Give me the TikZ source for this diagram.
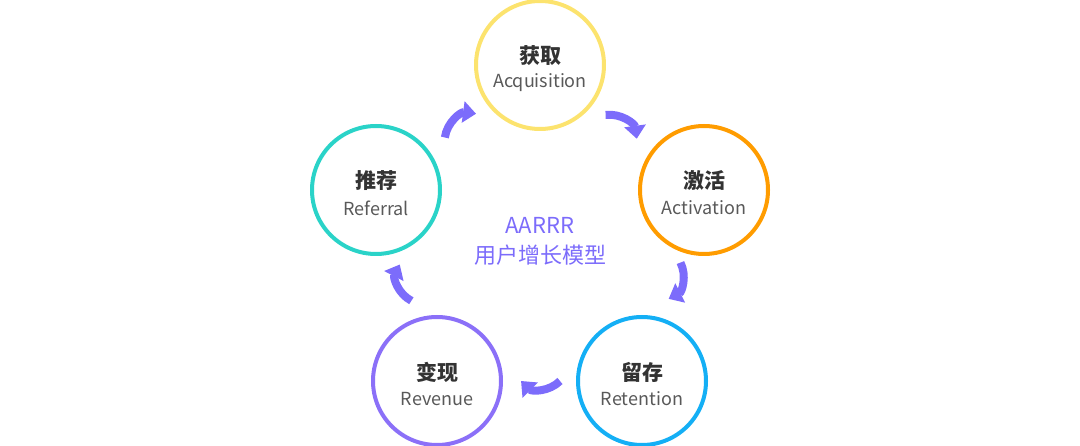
\documentclass[tikz,border=0pt]{standalone}
\usepackage{fontspec}
\setmainfont{Noto Sans CJK SC}
\usetikzlibrary{calc,arrows.meta}

\definecolor{acqcolor}{RGB}{252,227,110}
\definecolor{actcolor}{RGB}{255,156,0}
\definecolor{retcolor}{RGB}{20,175,245}
\definecolor{revcolor}{RGB}{139,112,248}
\definecolor{refcolor}{RGB}{42,211,200}
\definecolor{flowcolor}{RGB}{124,108,251}

\begin{document}
\begin{tikzpicture}[x=1pt,y=-1pt,
        stage/.style={circle,draw=#1,fill=white,line width=4pt,minimum size=128pt,inner sep=0pt},
        cnlabel/.style={font=\fontsize{21}{21}\selectfont\bfseries,text=black!80,yshift=9pt},
        enlabel/.style={font=\fontsize{18}{18}\selectfont,text=black!65,yshift=-18pt},
        flow/.style={draw=flowcolor,line width=8pt,-{Triangle[width=21pt,length=13pt]}},
        title/.style={font=\fontsize{22}{30}\selectfont,text=flowcolor,align=center}
    ]
    \useasboundingbox (0,0) rectangle (1080,446);

    \node[stage=acqcolor,label={[cnlabel]center:获取},label={[enlabel]center:Acquisition}] (acq) at (540,65) {};
    \node[stage=actcolor,label={[cnlabel]center:激活},label={[enlabel]center:Activation}] (act) at (704,190) {};
    \node[stage=retcolor,label={[cnlabel]center:留存},label={[enlabel]center:Retention}] (ret) at (642,381) {};
    \node[stage=revcolor,label={[cnlabel]center:变现},label={[enlabel]center:Revenue}] (rev) at (437,381) {};
    \node[stage=refcolor,label={[cnlabel]center:推荐},label={[enlabel]center:Referral}] (ref) at (376,190) {};

    \node[title] (model) at (540,241) {AARRR\\用户增长模型};

    \draw[flow] ($(ref)!.42!(acq)$) to[bend left=45] ($(ref)!.61!(acq)$);
    \draw[flow] ($(acq)!.40!(act)$) to[bend left=45] ($(acq)!.59!(act)$);
    \draw[flow] ($(act)!.38!(ret)$) to[bend left=45] ($(act)!.57!(ret)$);
    \draw[flow] ($(ret)!.40!(rev)$) to[bend left=45] ($(ret)!.59!(rev)$);
    \draw[flow] ($(rev)!.42!(ref)$) to[bend left=45] ($(rev)!.61!(ref)$);
\end{tikzpicture}
\end{document}
